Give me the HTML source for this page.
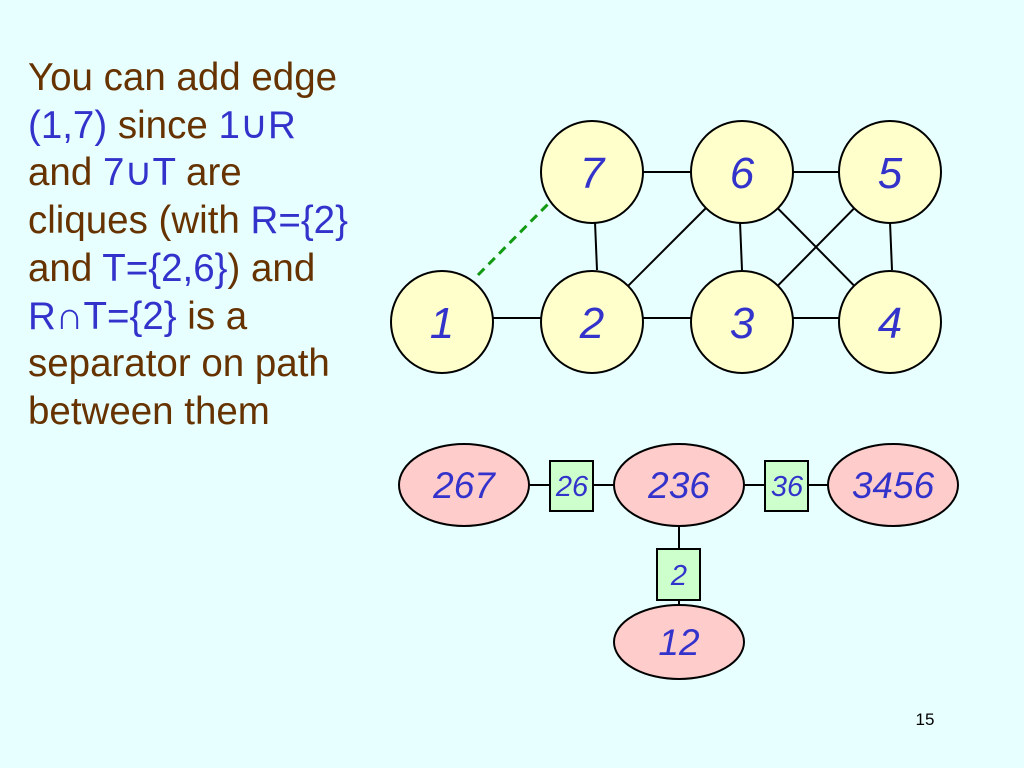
<!DOCTYPE html>
<html><head><style>
body{margin:0;width:1024px;height:768px;background:#e8ffff;overflow:hidden;position:relative;font-family:"Liberation Sans",sans-serif}
#t{position:absolute;left:28px;top:54px;font-size:38.5px;line-height:47.7px;color:#663300;white-space:nowrap}
.b{color:#3333cc}
</style></head><body>
<div id="t">You can add edge<br><span class="b">(1,7)</span> since <span class="b">1∪R</span><br>and <span class="b">7∪T</span> are<br>cliques (with <span class="b">R={2}</span><br>and <span class="b">T={2,6}</span>) and<br><span class="b">R∩T={2}</span> is a<br>separator on path<br>between them</div>
<svg width="1024" height="768" style="position:absolute;left:0;top:0" font-family="Liberation Sans, sans-serif" font-style="italic">
<g stroke="#000" stroke-width="2">
<line x1="592" y1="172" x2="742" y2="172"/><line x1="742" y1="172" x2="890" y2="172"/>
<line x1="595" y1="222" x2="597" y2="270"/><line x1="742" y1="172" x2="592" y2="322"/>
<line x1="740" y1="222" x2="742" y2="270"/><line x1="742" y1="172" x2="890" y2="322"/>
<line x1="890" y1="172" x2="742" y2="322"/><line x1="890" y1="222" x2="892" y2="270"/>
<line x1="442" y1="318" x2="890" y2="318"/>
</g>
<line x1="478" y1="275" x2="552" y2="200" stroke="#119911" stroke-width="3" stroke-dasharray="9,6"/>
<g fill="#ffffcc" stroke="#000" stroke-width="2">
<circle cx="592" cy="172" r="51"/><circle cx="742" cy="172" r="51"/><circle cx="890" cy="172" r="51"/>
<circle cx="442" cy="322" r="51"/><circle cx="592" cy="322" r="51"/><circle cx="742" cy="322" r="51"/><circle cx="890" cy="322" r="51"/>
</g>
<g fill="#3333cc" font-size="44" text-anchor="middle">
<text x="592" y="188">7</text><text x="742" y="188">6</text><text x="890" y="188">5</text>
<text x="442" y="338">1</text><text x="592" y="338">2</text><text x="742" y="338">3</text><text x="890" y="338">4</text>
</g>
<g stroke="#000" stroke-width="2">
<line x1="529" y1="485" x2="829" y2="485"/><line x1="679" y1="520" x2="679" y2="610"/>
</g>
<g fill="#ffcccc" stroke="#000" stroke-width="2">
<ellipse cx="464" cy="485" rx="65" ry="41"/><ellipse cx="679" cy="485" rx="65" ry="41"/>
<ellipse cx="893" cy="485" rx="65" ry="41"/><ellipse cx="679" cy="642" rx="65" ry="37"/>
</g>
<g fill="#ccffcc" stroke="#000" stroke-width="2">
<rect x="550" y="461" width="43" height="50"/><rect x="765" y="461" width="43" height="50"/><rect x="657" y="549" width="43" height="51"/>
</g>
<g fill="#3333cc" text-anchor="middle">
<text x="464" y="498" font-size="37">267</text><text x="679" y="498" font-size="37">236</text>
<text x="893" y="498" font-size="37">3456</text><text x="679" y="655" font-size="37">12</text>
<text x="572" y="496" font-size="29">26</text><text x="787" y="496" font-size="29">36</text><text x="679" y="585" font-size="29">2</text>
</g>
<text x="925" y="725" font-size="17" font-style="normal" text-anchor="middle" fill="#000">15</text>
</svg>
</body></html>
